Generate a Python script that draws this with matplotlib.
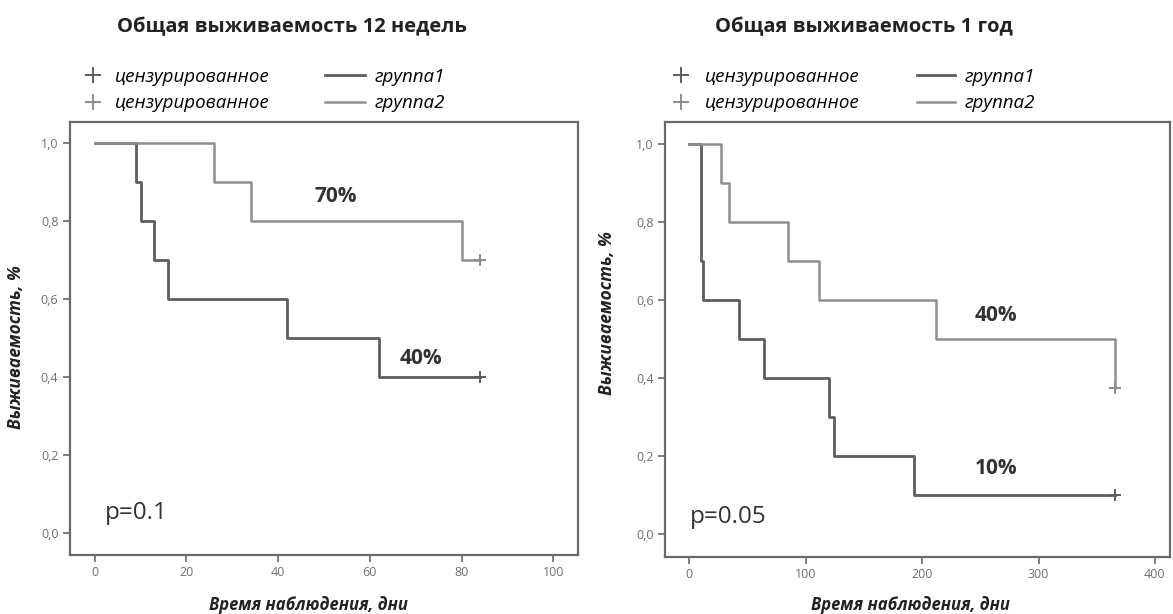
#!/usr/bin/env python3

import matplotlib
matplotlib.use("Agg")
import matplotlib.pyplot as plt
from matplotlib.lines import Line2D

plt.rcParams["font.family"] = ["Open Sans", "DejaVu Sans"]

# --- data: Kaplan-Meier steps ---
# 12 weeks
w12_g1_t = [0, 9, 10, 13, 16, 42, 62, 84]
w12_g1_s = [1.0, 0.9, 0.8, 0.7, 0.6, 0.5, 0.4, 0.4]
w12_g2_t = [0, 26, 34, 80, 84]
w12_g2_s = [1.0, 0.9, 0.8, 0.7, 0.7]
w12_cens_g1 = (84, 0.4)
w12_cens_g2 = (84, 0.7)

# 1 year
y1_g1_t = [0, 10, 12, 43, 64, 120, 124, 193, 366]
y1_g1_s = [1.0, 0.7, 0.6, 0.5, 0.4, 0.3, 0.2, 0.1, 0.1]
y1_g2_t = [0, 27, 34, 85, 111, 212, 366]
y1_g2_s = [1.0, 0.9, 0.8, 0.7, 0.6, 0.5, 0.375]
y1_cens_g1 = (366, 0.1)
y1_cens_g2 = (366, 0.375)

titles = ["Общая выживаемость 12 недель", "Общая выживаемость 1 год"]
pct_w12 = [("70%", 52.6, 0.862), ("40%", 71.1, 0.449)]
pct_y1 = [("40%", 263.5, 0.561), ("10%", 263.5, 0.168)]
p_texts = ["p=0.1", "p=0.05"]
xticks_w12 = [0, 20, 40, 60, 80, 100]
xticks_y1 = [0, 100, 200, 300, 400]
yticks = [0.0, 0.2, 0.4, 0.6, 0.8, 1.0]

DARK = "#5e5e5e"
LIGHT = "#8e8e8e"
AXC = "#6a6a6a"
TICKC = "#6f6f6f"

W, H = 1173, 614


def fx(px):
    return px / W


def fy(py):
    return 1 - py / H


fig = plt.figure(figsize=(W / 100, H / 100), dpi=100)
ax1 = fig.add_axes([fx(69.6), fy(555), (577.5 - 69.6) / W, (555 - 121.7) / H])
ax2 = fig.add_axes([fx(665), fy(557), (1170 - 665) / W, (557 - 121.7) / H])


def style_axis(ax, xticks, xlim, ylim, ylab_pos, xlab_pos):
    ax.set_xlim(*xlim)
    ax.set_ylim(*ylim)
    ax.set_xticks(xticks)
    ax.set_yticks(yticks)
    ax.set_yticklabels([f"{v:.1f}".replace(".", ",") for v in yticks])
    for sp in ax.spines.values():
        sp.set_color(AXC)
        sp.set_linewidth(1.6)
    ax.tick_params(direction="out", length=5, width=1.2, color=AXC,
                   labelcolor=TICKC, labelsize=9, pad=3)
    ax.set_ylabel("Выживаемость, %", fontsize=12.5, fontweight="bold",
                  style="italic", color="#222222")
    ax.set_xlabel("Время наблюдения, дни", fontsize=12, fontweight="bold",
                  style="italic", color="#222222", va="center")
    ax.yaxis.set_label_coords(ylab_pos[0], ylab_pos[1])
    ax.xaxis.set_label_coords(xlab_pos[0], xlab_pos[1])


def draw_km(ax, t1, s1, t2, s2, c1, c2):
    ax.step(t1, s1, where="post", color=DARK, lw=2.0)
    ax.step(t2, s2, where="post", color=LIGHT, lw=1.8)
    ax.plot([c1[0]], [c1[1]], marker="+", color=DARK, ms=9, mew=1.4, ls="none")
    ax.plot([c2[0]], [c2[1]], marker="+", color=LIGHT, ms=9, mew=1.4, ls="none")


def add_legend(ax, plus_x, text_x, line_x0, line_x1, gtext_x):
    fs = 13.5
    fpx = fs * 100 / 72
    hl1 = 1.0
    plus_handles = [
        Line2D([], [], marker="+", color=DARK, ms=12, mew=1.4, ls="none"),
        Line2D([], [], marker="+", color=LIGHT, ms=12, mew=1.4, ls="none"),
    ]
    leg1 = ax.legend(
        plus_handles, ["цензурированное", "цензурированное"],
        loc="center left", bbox_to_anchor=(fx(plus_x - hl1 * fpx / 2), fy(90)),
        bbox_transform=fig.transFigure, frameon=False, borderpad=0,
        borderaxespad=0, handlelength=hl1,
        handletextpad=(text_x - plus_x - hl1 * fpx / 2) / fpx,
        labelspacing=0.45, prop={"size": fs, "style": "italic"},
    )
    ax.add_artist(leg1)
    line_handles = [
        Line2D([], [], color=DARK, lw=2.0),
        Line2D([], [], color=LIGHT, lw=1.8),
    ]
    hl2 = (line_x1 - line_x0) / fpx
    ax.legend(
        line_handles, ["группа1", "группа2"],
        loc="center left", bbox_to_anchor=(fx(line_x0), fy(90)),
        bbox_transform=fig.transFigure, frameon=False, borderpad=0,
        borderaxespad=0, handlelength=hl2,
        handletextpad=(gtext_x - line_x1) / fpx,
        labelspacing=0.45, prop={"size": fs, "style": "italic"},
    )


# 12 weeks
draw_km(ax1, w12_g1_t, w12_g1_s, w12_g2_t, w12_g2_s, w12_cens_g1, w12_cens_g2)
style_axis(ax1, xticks_w12, (-5.5, 105.3), (-0.056, 1.055),
           (-0.088, 0.48), (0.471, -0.115))
for txt, x, y in pct_w12:
    ax1.text(x, y, txt, ha="center", va="center", fontsize=15,
             fontweight="bold", color="#333333")
ax1.text(2.2, 0.051, p_texts[0], ha="left", va="center", fontsize=17.5,
         color="#333333")
add_legend(ax1, 93, 115, 325, 365, 375)

# 1 year
draw_km(ax2, y1_g1_t, y1_g1_s, y1_g2_t, y1_g2_s, y1_cens_g1, y1_cens_g2)
style_axis(ax2, xticks_y1, (-21, 413), (-0.058, 1.057),
           (-0.097, 0.56), (0.487, -0.11))
for txt, x, y in pct_y1:
    ax2.text(x, y, txt, ha="center", va="center", fontsize=15,
             fontweight="bold", color="#333333")
ax2.text(0.0, 0.045, p_texts[1], ha="left", va="center", fontsize=17.5,
         color="#333333")
add_legend(ax2, 681, 705, 917, 955, 965)

fig.text(fx(292), fy(27), titles[0], ha="center", va="center", fontsize=14.5,
         fontweight="bold", color="#222222")
fig.text(fx(864), fy(27), titles[1], ha="center", va="center", fontsize=14.5,
         fontweight="bold", color="#222222")

fig.savefig("out.png", dpi=100)
